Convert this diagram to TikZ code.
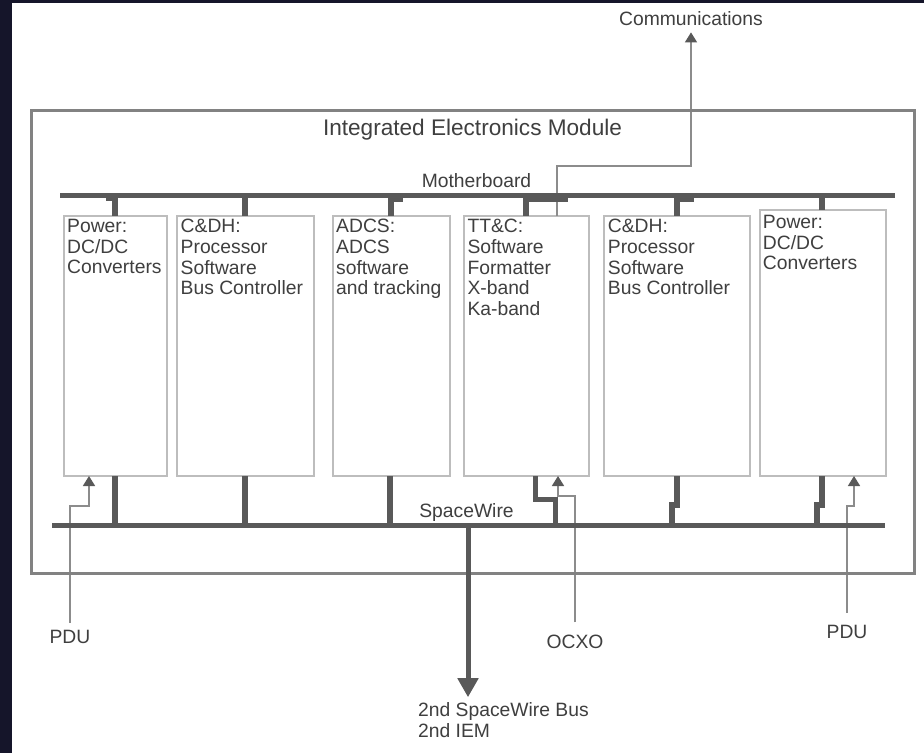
\documentclass[tikz,border=0pt]{standalone}
\usepackage{fontspec}
\setmainfont{Liberation Sans}
\usetikzlibrary{arrows.meta}
\definecolor{busc}{HTML}{595959}
\definecolor{modc}{HTML}{828282}
\definecolor{cardc}{HTML}{BDBDBD}
\definecolor{wirec}{HTML}{8C8C8C}
\definecolor{txtc}{HTML}{3F3F3F}
\definecolor{spacebg}{HTML}{15152A}
\begin{document}
\begin{tikzpicture}[x=1pt,y=-1pt,
  bus/.style={draw=busc,line width=5pt},
  stub/.style={draw=busc,line width=5.5pt,line join=miter},
  tab/.style={fill=busc},
  modbox/.style={draw=modc,line width=3pt,inner sep=0pt,outer sep=0pt,anchor=north west},
  card/.style={draw=cardc,line width=2pt,inner sep=0pt,outer sep=0pt,anchor=north west,fill=white},
  cardtext/.style={text=txtc,font=\fontsize{19.3}{20.7}\selectfont,align=left,anchor=north west,inner sep=0pt},
  lbl/.style={text=txtc,font=\fontsize{19.3}{20.7}\selectfont,inner sep=0pt,anchor=base},
  wire/.style={draw=wirec,line width=1.5pt,-{Triangle[width=12pt,length=10pt,color=busc]}},
  bigarrow/.style={draw=busc,line width=5pt,-{Triangle[width=20pt,length=19pt,color=busc]}}
]
\useasboundingbox (0,0) rectangle (924,753);
\fill[white] (0,0) rectangle (924,753);
\fill[spacebg] (0,0) rectangle (12,753);
\fill[spacebg] (0,0) rectangle (924,3);

% bus reference coordinates
\coordinate (mbL) at (60,195.5);
\coordinate (mbR) at (895,195.5);
\coordinate (swL) at (52,525);
\coordinate (swR) at (885,525);

% cards (drawn as named nodes, placed first for anchors)
\path (63.5,215.5) node[card,minimum width=103pt,minimum height=260.5pt] (pw1) {};
\path (176.5,215.5) node[card,minimum width=137pt,minimum height=260.5pt] (cdh1) {};
\path (332.5,215.5) node[card,minimum width=117pt,minimum height=260.5pt] (adcs) {};
\path (464,215.5) node[card,minimum width=124.5pt,minimum height=260.5pt] (ttc) {};
\path (604,215.5) node[card,minimum width=145.5pt,minimum height=260.5pt] (cdh2) {};
\path (759.5,210) node[card,minimum width=126.5pt,minimum height=266pt] (pw2) {};

% labels
\node[lbl,font=\fontsize{22.6}{26}\selectfont] (iemt) at (472.5,135) {Integrated Electronics Module};
\node[lbl] (mbt) at (476.5,187) {Motherboard};
\node[lbl] (swt) at (466.5,517) {SpaceWire};
\node[lbl] (comm) at (691,25) {Communications};
\node[lbl] (pdu1) at (70,643) {PDU};
\node[lbl] (ocxo) at (575,648) {OCXO};
\node[lbl] (pdu2) at (847,638) {PDU};
\node[cardtext] (sw2) at (418,702.2) {2nd SpaceWire Bus\\2nd IEM};

% thin signal wires
\path ([xshift=93pt]ttc.north west) coordinate (c0);
\coordinate (cturn) at (691,166);
\draw[wire] (c0) |- (cturn) -- ([yshift=-7pt]comm.south);
\draw[wire] ([yshift=7pt]pdu1.north) |- ([xshift=25.5pt,yshift=-30pt]pw1.south west) -- ([xshift=25.5pt]pw1.south west);
\draw[wire] ([yshift=12pt]ocxo.north) |- ([xshift=94pt,yshift=-20pt]ttc.south west) -- ([xshift=94pt]ttc.south west);
\draw[wire] ([yshift=12pt]pdu2.north) |- ([xshift=94.5pt,yshift=-30pt]pw2.south west) -- ([xshift=94.5pt]pw2.south west);

% module box
\path (31.5,110) node[modbox,minimum width=882.8pt,minimum height=463.3pt] (iem) {};

% buses
\draw[bus] (mbL) -- (mbR);
\draw[bus] (swL) -- (swR);

% motherboard stubs
\path ([xshift=51.5pt]pw1.north west) coordinate (t1);
\path ([xshift=68.5pt]cdh1.north west) coordinate (t2);
\path ([xshift=58.5pt]adcs.north west) coordinate (t3);
\path ([xshift=62pt]ttc.north west) coordinate (t4);
\path ([xshift=73pt]cdh2.north west) coordinate (t5);
\path ([xshift=62.5pt]pw2.north west) coordinate (t6);
\foreach \t in {t1,t2,t3,t4,t5,t6} \draw[stub] (\t) -- (\t |- mbL);
\fill[tab] (106,197.5) rectangle (115,201);
\fill[tab] (391,197.5) rectangle (403,202);
\fill[tab] (526,197.5) rectangle (568,202);
\fill[tab] (677,197.5) rectangle (694,201.5);

% SpaceWire stubs
\path ([xshift=51.5pt]pw1.south west) coordinate (b1);
\path ([xshift=68.5pt]cdh1.south west) coordinate (b2);
\path ([xshift=57.5pt]adcs.south west) coordinate (b3);
\path ([xshift=71.5pt]ttc.south west) coordinate (b4);
\path ([xshift=73pt]cdh2.south west) coordinate (b5);
\path ([xshift=62.5pt]pw2.south west) coordinate (b6);
\draw[stub] (b1) -- (b1 |- swL);
\draw[stub] (b2) -- (b2 |- swL);
\draw[stub] (b3) -- (b3 |- swL);
\draw[stub] (b4) -- ++(0,23.5) -- ++(20,0) -- ++(0,25.5);
\draw[stub] (b5) -- ++(0,29) -- ++(-5,0) -- ++(0,20);
\draw[stub] (b6) -- ++(0,29) -- ++(-5,0) -- ++(0,20);

% second SpaceWire bus
\coordinate (sw2top) at (468,525);
\draw[bigarrow] (sw2top) -- ([yshift=5pt]sw2.north west -| sw2top);

% card texts
\node[cardtext] at ([shift={(3.5,3.5)}]pw1.north west) {Power:\\DC/DC\\Converters};
\node[cardtext] at ([shift={(4,3.5)}]cdh1.north west) {C\&DH:\\Processor\\Software\\Bus Controller};
\node[cardtext] at ([shift={(3.5,3.5)}]adcs.north west) {ADCS:\\ADCS\\software\\and tracking};
\node[cardtext] at ([shift={(3.3,3.5)}]ttc.north west) {TT\&C:\\Software\\Formatter\\X-band\\Ka-band};
\node[cardtext] at ([shift={(3.7,3.5)}]cdh2.north west) {C\&DH:\\Processor\\Software\\Bus Controller};
\node[cardtext] at ([shift={(3.2,5)}]pw2.north west) {Power:\\DC/DC\\Converters};
\end{tikzpicture}
\end{document}
